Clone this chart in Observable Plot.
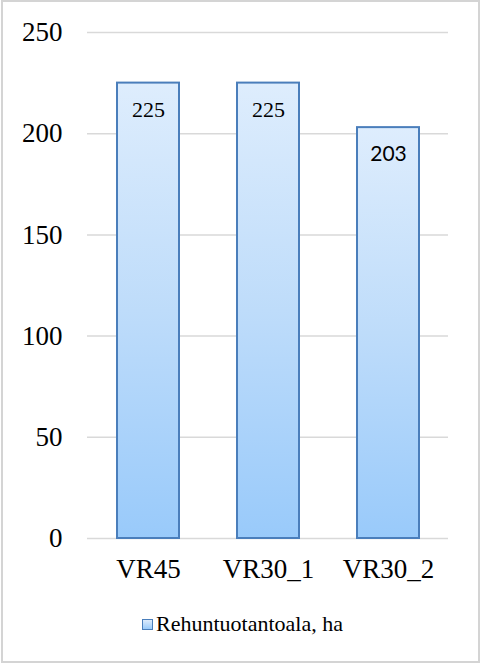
<!DOCTYPE html>
<html>
<head>
<meta charset="utf-8">
<script src="https://cdn.jsdelivr.net/npm/d3@7"></script>
<script src="https://cdn.jsdelivr.net/npm/@observablehq/plot@0.6"></script>
<style>
  html, body { margin: 0; padding: 0; background: #fff; }
  #wrap { position: relative; width: 482px; height: 664px; overflow: hidden; background: #fff; }
  #chart { position: absolute; left: 0; top: 0; }
  #frame { position: absolute; left: 1px; top: 0px; right: 2px; bottom: 1px; border: 2px solid #d4d4d4; pointer-events: none; }
  #legend { position: absolute; left: 142px; top: 613px; height: 22px; line-height: 22px; font-family: "Liberation Serif", "Times New Roman", serif; font-size: 22px; color: #000; display: flex; align-items: center; white-space: nowrap; }
  #legend .sw { width: 9px; height: 9px; border: 1.5px solid #4a7ebb; background: linear-gradient(#dcebfc, #99cafa); margin-right: 3px; }
</style>
</head>
<body>
<div id="wrap">
  <div id="chart"></div>
  <div id="legend"><span class="sw"></span><span id="legtext"></span></div>
  <div id="frame"></div>
</div>
<script>
const categories = ["VR45", "VR30_1", "VR30_2"];
const values = [225, 225, 203];
const labelFonts = ["serif", "serif", "sans"];
const yTicks = [0, 50, 100, 150, 200, 250];
const seriesName = "Rehuntuotantoala, ha";

const data = categories.map((c, i) => ({cat: c, value: values[i], font: labelFonts[i]}));

const plot = Plot.plot({
  width: 482,
  height: 600,
  marginTop: 32,
  marginBottom: 62,
  marginLeft: 87,
  marginRight: 34,
  style: {fontFamily: "Liberation Serif, Times New Roman, serif", background: "transparent"},
  x: {domain: categories, paddingInner: 0.485, paddingOuter: 0.2425, label: null},
  y: {domain: [0, 250], ticks: yTicks, label: null},
  marks: [
    Plot.gridY(yTicks, {stroke: "#d9d9d9", strokeOpacity: 1, strokeWidth: 1.5}),
    Plot.axisY(yTicks, {tickSize: 0, tickPadding: 25, fontSize: 27, fill: "#000", label: null, tickFormat: d3.format("d")}),
    Plot.axisX({tickSize: 0, tickPadding: 20, fontSize: 27, fill: "#000", label: null}),
    Plot.barY(data, {x: "cat", y: "value", fill: "url(#barGrad)", stroke: "#4a7ebb", strokeWidth: 2}),
    Plot.text(data, {x: "cat", y: "value", text: d => String(d.value), dy: 27, fontSize: 22, fill: "#000"})
  ]
});

// gradient definition for bars
const ns = "http://www.w3.org/2000/svg";
const defs = document.createElementNS(ns, "defs");
const grad = document.createElementNS(ns, "linearGradient");
grad.setAttribute("id", "barGrad");
grad.setAttribute("x1", "0"); grad.setAttribute("y1", "0");
grad.setAttribute("x2", "0"); grad.setAttribute("y2", "1");
[["0%", "#deedfd"], ["50%", "#bedcfa"], ["100%", "#99cafa"]].forEach(([o, c]) => {
  const s = document.createElementNS(ns, "stop");
  s.setAttribute("offset", o); s.setAttribute("stop-color", c);
  grad.appendChild(s);
});
defs.appendChild(grad);
plot.insertBefore(defs, plot.firstChild);

// per-label font family (the last label uses a sans face in the original)
d3.select(plot).selectAll('g[aria-label="text"] text').each(function(_, i) {
  const f = labelFonts[i] === "sans" ? "Lato, 'Liberation Sans', sans-serif" : "'Liberation Serif', 'Times New Roman', serif";
  this.style.fontFamily = f;
  if (labelFonts[i] === "sans") this.style.fontSize = "21px";
});

document.getElementById("chart").appendChild(plot);
document.getElementById("legtext").textContent = seriesName;
</script>
</body>
</html>
